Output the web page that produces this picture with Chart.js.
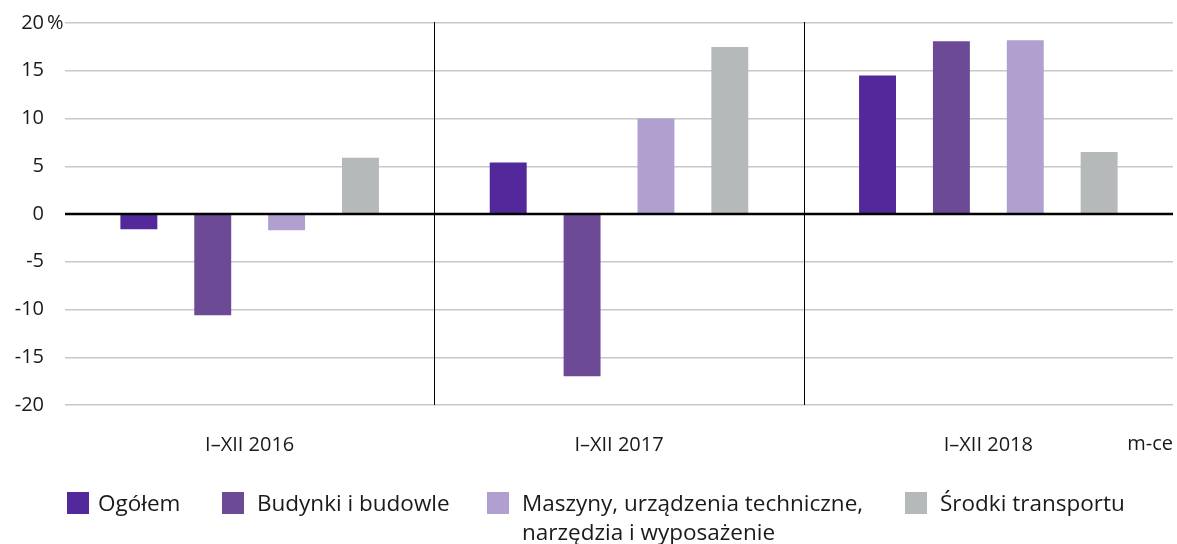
<!DOCTYPE html>
<html>
<head>
<meta charset="utf-8">
<script src="https://cdn.jsdelivr.net/npm/chart.js@4/dist/chart.umd.min.js"></script>
<style>
  html, body { margin: 0; padding: 0; background: #fff; }
  #wrap { position: relative; width: 1177px; height: 544px; overflow: hidden; }
  canvas { position: absolute; left: 0; top: 0; }
  .lg { position: absolute; font-family: "Open Sans", "Noto Sans", sans-serif; font-size: 22.5px; color: #1a1a1a; line-height: 29px; white-space: nowrap; }
  .bx { position: absolute; width: 22px; height: 22px; }
</style>
</head>
<body>
<div id="wrap">
  <canvas id="c" width="1177" height="544"></canvas>
  <div id="legend"></div>
</div>
<script>
const categories = ["I–XII 2016", "I–XII 2017", "I–XII 2018"];
const seriesNames = ["Ogółem", "Budynki i budowle", ["Maszyny, urządzenia techniczne,", "narzędzia i wyposażenie"], "Środki transportu"];
const ogolem = [-1.6, 5.4, 14.5];
const budynki = [-10.6, -17.0, 18.1];
const maszyny = [-1.7, 10.0, 18.2];
const srodki = [5.9, 17.5, 6.5];
const yTicks = [-20, -15, -10, -5, 0, 5, 10, 15, 20];
const unitLabel = "m-ce";
const percentLabel = "%";

const colors = ["#52289b", "#6d4a96", "#b09fcf", "#b6b9ba"];
const FONT = '"Open Sans", "Noto Sans", sans-serif';

const overlay = {
  id: 'overlay',
  afterDatasetsDraw(chart) {
    const ctx = chart.ctx, ca = chart.chartArea;
    const xs = chart.scales.x, ys = chart.scales.y;
    ctx.save();
    ctx.strokeStyle = '#000';
    ctx.lineWidth = 1;
    for (let i = 1; i < categories.length; i++) {
      const x = Math.round((xs.getPixelForTick(i - 1) + xs.getPixelForTick(i)) / 2) + 0.5;
      ctx.beginPath();
      ctx.moveTo(x, ca.top - 1);
      ctx.lineTo(x, ca.bottom);
      ctx.stroke();
    }
    const y0 = ys.getPixelForValue(0);
    ctx.lineWidth = 2.5;
    ctx.beginPath();
    ctx.moveTo(ca.left, y0);
    ctx.lineTo(ca.right, y0);
    ctx.stroke();
    ctx.fillStyle = '#1a1a1a';
    ctx.font = '20px ' + FONT;
    ctx.textBaseline = 'middle';
    ctx.textAlign = 'left';
    ctx.fillText(percentLabel, 47, ys.getPixelForValue(yTicks[yTicks.length - 1]));
    ctx.textAlign = 'right';
    ctx.fillText(unitLabel, 1173, 444);
    ctx.restore();
  }
};

new Chart(document.getElementById('c'), {
  type: 'bar',
  data: {
    labels: categories,
    datasets: [
      { label: "Ogółem", data: ogolem, backgroundColor: colors[0] },
      { label: "Budynki i budowle", data: budynki, backgroundColor: colors[1] },
      { label: "Maszyny, urządzenia techniczne, narzędzia i wyposażenie", data: maszyny, backgroundColor: colors[2] },
      { label: "Środki transportu", data: srodki, backgroundColor: colors[3] }
    ]
  },
  options: {
    responsive: false,
    animation: false,
    devicePixelRatio: 1,
    layout: { padding: { left: 0, right: 4, top: 23, bottom: 0 } },
    datasets: { bar: { categoryPercentage: 0.8, barPercentage: 0.5 } },
    plugins: { legend: { display: false }, tooltip: { enabled: false } },
    scales: {
      x: {
        grid: { display: false, drawTicks: false, tickLength: 0 },
        border: { display: false },
        ticks: { color: '#1a1a1a', font: { family: FONT, size: 20 }, padding: 28, maxRotation: 0 },
        afterFit(s) { s.height = 139; s.paddingLeft = 0; s.paddingRight = 0; }
      },
      y: {
        min: -20, max: 20,
        afterBuildTicks(s) { s.ticks = yTicks.map(v => ({ value: v })); },
        grid: { color: '#c8c8c8', lineWidth: 1.5, drawTicks: false, tickLength: 0 },
        border: { display: false },
        ticks: { color: '#1a1a1a', font: { family: FONT, size: 20 }, padding: 21, callback: v => String(v) },
        afterFit(s) { s.width = 65; s.paddingTop = 0; s.paddingBottom = 0; }
      }
    }
  },
  plugins: [overlay]
});

const legendPos = [[67, 98], [222, 257], [487, 522], [905, 940]];
const lg = document.getElementById('legend');
seriesNames.forEach((name, i) => {
  const b = document.createElement('div');
  b.className = 'bx';
  b.style.left = legendPos[i][0] + 'px';
  b.style.top = '492px';
  b.style.background = colors[i];
  lg.appendChild(b);
  const t = document.createElement('div');
  t.className = 'lg';
  t.style.left = legendPos[i][1] + 'px';
  t.style.top = '488px';
  const lines = Array.isArray(name) ? name : [name];
  lines.forEach((ln, k) => {
    if (k) t.appendChild(document.createElement('br'));
    t.appendChild(document.createTextNode(ln));
  });
  lg.appendChild(t);
});
</script>
</body>
</html>
